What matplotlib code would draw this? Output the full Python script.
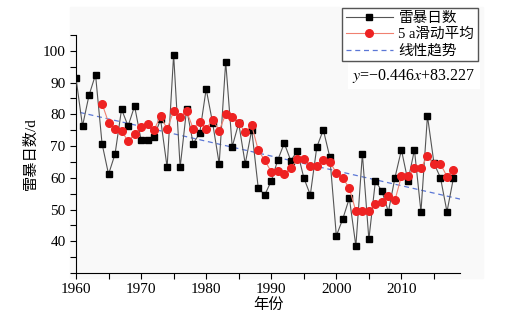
import matplotlib
matplotlib.use('Agg')
import matplotlib.pyplot as plt
from matplotlib.patches import Rectangle
from matplotlib.ticker import MultipleLocator

plt.rcParams['font.family'] = ['Liberation Serif', 'Noto Sans CJK SC']
plt.rcParams['mathtext.fontset'] = 'stix'

years = list(range(1960, 2019))
thunder_days = [91.4, 76.3, 86.0, 92.5, 70.8, 61.1, 67.5, 81.6, 76.3, 82.6,
                71.9, 71.9, 73.0, 78.4, 63.3, 98.8, 63.3, 81.7, 70.8, 74.0,
                88.0, 77.2, 64.4, 96.6, 69.8, 77.2, 64.4, 75.1, 56.8, 54.6,
                59.0, 65.6, 70.9, 65.4, 68.5, 60.0, 54.6, 69.7, 75.1, 66.5,
                41.7, 47.1, 53.6, 38.5, 67.5, 40.6, 59.0, 55.8, 49.3, 60.0,
                68.8, 59.0, 68.8, 49.3, 79.5, 64.6, 60.0, 49.3, 60.0]

ma_years = list(range(1964, 2019))
moving_avg = [83.4, 77.4, 75.5, 74.8, 71.5, 73.8, 75.9, 76.8, 75.1, 79.5,
              75.4, 81.0, 79.2, 81.0, 75.5, 77.7, 75.5, 78.3, 74.9, 80.0,
              79.1, 77.2, 74.4, 76.5, 68.7, 65.5, 61.9, 62.2, 61.2, 63.0,
              65.8, 66.0, 63.8, 63.7, 65.6, 65.1, 61.5, 59.9, 56.7, 49.5,
              49.6, 49.5, 51.6, 52.3, 54.4, 52.9, 60.5, 60.5, 63.0, 63.0,
              66.9, 64.3, 64.4, 60.4, 62.6]

trend_years = [1960.6, 2019]
trend_values = [80.6, 53.3]

fig = plt.figure(figsize=(5.14, 3.24), dpi=100)
bg = Rectangle((70/514, 1-278/324), 413/514, 271/324,
               transform=fig.transFigure, color='#f9f9f9', zorder=-5)
fig.add_artist(bg)
ax = fig.add_axes([76/514, 1-273/324, 384/514, 238/324])
ax.set_facecolor('none')

ax.plot(years, thunder_days, color='#555555', lw=0.8, marker='s', ms=5,
        mfc='black', mec='black', label='雷暴日数', zorder=3)
ax.plot(ma_years, moving_avg, color='#f08070', lw=0.8, marker='o', ms=5.5,
        mfc='#ee2222', mec='#ee2222', label='5 a滑动平均', zorder=4)
ax.plot(trend_years, trend_values, color='#5b77d6', lw=0.9, ls=(0, (4, 3)),
        label='线性趋势', zorder=2)

ax.set_xlim(1960, 2019)
ax.set_ylim(30, 105)
ax.xaxis.set_minor_locator(MultipleLocator(5))
ax.yaxis.set_minor_locator(MultipleLocator(5))
ax.set_yticks(range(40, 101, 10))
ax.set_xticks(range(1960, 2011, 10))
ax.spines['top'].set_visible(False)
ax.spines['right'].set_visible(False)
ax.tick_params(which='both', direction='out', length=4, width=0.8, labelsize=11)
ax.set_xlabel('年份', fontsize=11, labelpad=1)
ax.set_ylabel('雷暴日数/d', fontsize=11, labelpad=4)

fig.legend(loc='upper right', bbox_to_anchor=(478/514, 1-8/324), fontsize=10.5,
           frameon=True, fancybox=False, edgecolor='#555555', framealpha=1,
           borderpad=0.25, borderaxespad=0, handlelength=3.2, handletextpad=0.4,
           labelspacing=0.2)
fig.text(414/514, 1-76/324, r'$y$=−0.446$x$+83.227', ha='center', va='center',
         fontsize=11.5, bbox=dict(facecolor='white', edgecolor='none', pad=3))

fig.savefig('out.png', dpi=100)
